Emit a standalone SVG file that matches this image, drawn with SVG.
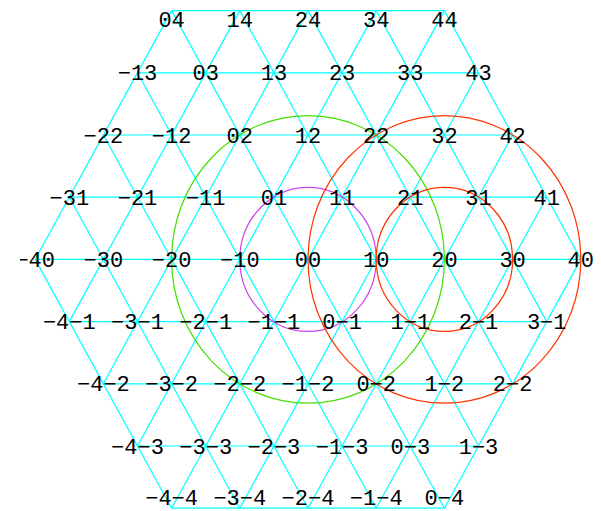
<svg xmlns="http://www.w3.org/2000/svg" width="601" height="511" viewBox="0 0 601 511">
<style>
.g line{stroke:#00ffff;stroke-width:1.2;fill:none}
.c{fill:none;stroke-width:1.2}
text{font-family:"Liberation Mono","DejaVu Sans Mono",monospace;font-size:22px;fill:#000;text-anchor:middle}
</style>
<defs><clipPath id="clipL"><rect x="20" y="0" width="581" height="511"/></clipPath></defs>
<rect width="601" height="511" fill="#fff"/>
<g id="connectors" class="g">
<line x1="171.6" y1="10.6" x2="444.4" y2="10.6"/>
<line x1="137.5" y1="72.8" x2="478.5" y2="72.8"/>
<line x1="103.4" y1="135" x2="512.6" y2="135"/>
<line x1="69.3" y1="197.2" x2="546.7" y2="197.2"/>
<line x1="35.2" y1="259.4" x2="580.8" y2="259.4"/>
<line x1="69.3" y1="321.6" x2="546.7" y2="321.6"/>
<line x1="103.4" y1="383.8" x2="512.6" y2="383.8"/>
<line x1="137.5" y1="446" x2="478.5" y2="446"/>
<line x1="171.6" y1="508.2" x2="444.4" y2="508.2"/>
<line x1="171.6" y1="508.2" x2="35.2" y2="259.4"/>
<line x1="239.8" y1="508.2" x2="69.3" y2="197.2"/>
<line x1="308" y1="508.2" x2="103.4" y2="135"/>
<line x1="376.2" y1="508.2" x2="137.5" y2="72.8"/>
<line x1="444.4" y1="508.2" x2="171.6" y2="10.6"/>
<line x1="478.5" y1="446" x2="239.8" y2="10.6"/>
<line x1="512.6" y1="383.8" x2="308" y2="10.6"/>
<line x1="546.7" y1="321.6" x2="376.2" y2="10.6"/>
<line x1="580.8" y1="259.4" x2="444.4" y2="10.6"/>
<line x1="35.2" y1="259.4" x2="171.6" y2="10.6"/>
<line x1="69.3" y1="321.6" x2="239.8" y2="10.6"/>
<line x1="103.4" y1="383.8" x2="308" y2="10.6"/>
<line x1="137.5" y1="446" x2="376.2" y2="10.6"/>
<line x1="171.6" y1="508.2" x2="444.4" y2="10.6"/>
<line x1="239.8" y1="508.2" x2="478.5" y2="72.8"/>
<line x1="308" y1="508.2" x2="512.6" y2="135"/>
<line x1="376.2" y1="508.2" x2="546.7" y2="197.2"/>
<line x1="444.4" y1="508.2" x2="580.8" y2="259.4"/>
</g>
<g id="circles">
<ellipse class="c" cx="308" cy="259.4" rx="68.2" ry="72" stroke="#cc44ee"/>
<ellipse class="c" cx="308" cy="259.4" rx="136.4" ry="143.8" stroke="#44dd00"/>
<ellipse class="c" cx="444.4" cy="259.4" rx="68.2" ry="72" stroke="#ff3300"/>
<ellipse class="c" cx="444.4" cy="259.4" rx="136.4" ry="143.8" stroke="#ff3300"/>
</g>
<g id="nodes">
<g id="n0_4"><text x="171.6" y="27.1">04</text></g>
<g id="n1_4"><text x="239.8" y="27.1">14</text></g>
<g id="n2_4"><text x="308" y="27.1">24</text></g>
<g id="n3_4"><text x="376.2" y="27.1">34</text></g>
<g id="n4_4"><text x="444.4" y="27.1">44</text></g>
<g id="nm1_3"><text x="137.5" y="80.3">−13</text></g>
<g id="n0_3"><text x="205.7" y="80.3">03</text></g>
<g id="n1_3"><text x="273.9" y="80.3">13</text></g>
<g id="n2_3"><text x="342.1" y="80.3">23</text></g>
<g id="n3_3"><text x="410.3" y="80.3">33</text></g>
<g id="n4_3"><text x="478.5" y="80.3">43</text></g>
<g id="nm2_2"><text x="103.4" y="142.5">−22</text></g>
<g id="nm1_2"><text x="171.6" y="142.5">−12</text></g>
<g id="n0_2"><text x="239.8" y="142.5">02</text></g>
<g id="n1_2"><text x="308" y="142.5">12</text></g>
<g id="n2_2"><text x="376.2" y="142.5">22</text></g>
<g id="n3_2"><text x="444.4" y="142.5">32</text></g>
<g id="n4_2"><text x="512.6" y="142.5">42</text></g>
<g id="nm3_1"><text x="69.3" y="204.7">−31</text></g>
<g id="nm2_1"><text x="137.5" y="204.7">−21</text></g>
<g id="nm1_1"><text x="205.7" y="204.7">−11</text></g>
<g id="n0_1"><text x="273.9" y="204.7">01</text></g>
<g id="n1_1"><text x="342.1" y="204.7">11</text></g>
<g id="n2_1"><text x="410.3" y="204.7">21</text></g>
<g id="n3_1"><text x="478.5" y="204.7">31</text></g>
<g id="n4_1"><text x="546.7" y="204.7">41</text></g>
<g id="nm4_0"><text x="35.2" y="266.9" clip-path="url(#clipL)">−40</text></g>
<g id="nm3_0"><text x="103.4" y="266.9">−30</text></g>
<g id="nm2_0"><text x="171.6" y="266.9">−20</text></g>
<g id="nm1_0"><text x="239.8" y="266.9">−10</text></g>
<g id="n0_0"><text x="308" y="266.9">00</text></g>
<g id="n1_0"><text x="376.2" y="266.9">10</text></g>
<g id="n2_0"><text x="444.4" y="266.9">20</text></g>
<g id="n3_0"><text x="512.6" y="266.9">30</text></g>
<g id="n4_0"><text x="580.8" y="266.9">40</text></g>
<g id="nm4_m1"><text x="69.3" y="329.1">−4−1</text></g>
<g id="nm3_m1"><text x="137.5" y="329.1">−3−1</text></g>
<g id="nm2_m1"><text x="205.7" y="329.1">−2−1</text></g>
<g id="nm1_m1"><text x="273.9" y="329.1">−1−1</text></g>
<g id="n0_m1"><text x="342.1" y="329.1">0−1</text></g>
<g id="n1_m1"><text x="410.3" y="329.1">1−1</text></g>
<g id="n2_m1"><text x="478.5" y="329.1">2−1</text></g>
<g id="n3_m1"><text x="546.7" y="329.1">3−1</text></g>
<g id="nm4_m2"><text x="103.4" y="391.3">−4−2</text></g>
<g id="nm3_m2"><text x="171.6" y="391.3">−3−2</text></g>
<g id="nm2_m2"><text x="239.8" y="391.3">−2−2</text></g>
<g id="nm1_m2"><text x="308" y="391.3">−1−2</text></g>
<g id="n0_m2"><text x="376.2" y="391.3">0−2</text></g>
<g id="n1_m2"><text x="444.4" y="391.3">1−2</text></g>
<g id="n2_m2"><text x="512.6" y="391.3">2−2</text></g>
<g id="nm4_m3"><text x="137.5" y="453.5">−4−3</text></g>
<g id="nm3_m3"><text x="205.7" y="453.5">−3−3</text></g>
<g id="nm2_m3"><text x="273.9" y="453.5">−2−3</text></g>
<g id="nm1_m3"><text x="342.1" y="453.5">−1−3</text></g>
<g id="n0_m3"><text x="410.3" y="453.5">0−3</text></g>
<g id="n1_m3"><text x="478.5" y="453.5">1−3</text></g>
<g id="nm4_m4"><text x="171.6" y="504.5">−4−4</text></g>
<g id="nm3_m4"><text x="239.8" y="504.5">−3−4</text></g>
<g id="nm2_m4"><text x="308" y="504.5">−2−4</text></g>
<g id="nm1_m4"><text x="376.2" y="504.5">−1−4</text></g>
<g id="n0_m4"><text x="444.4" y="504.5">0−4</text></g>
</g>
</svg>
